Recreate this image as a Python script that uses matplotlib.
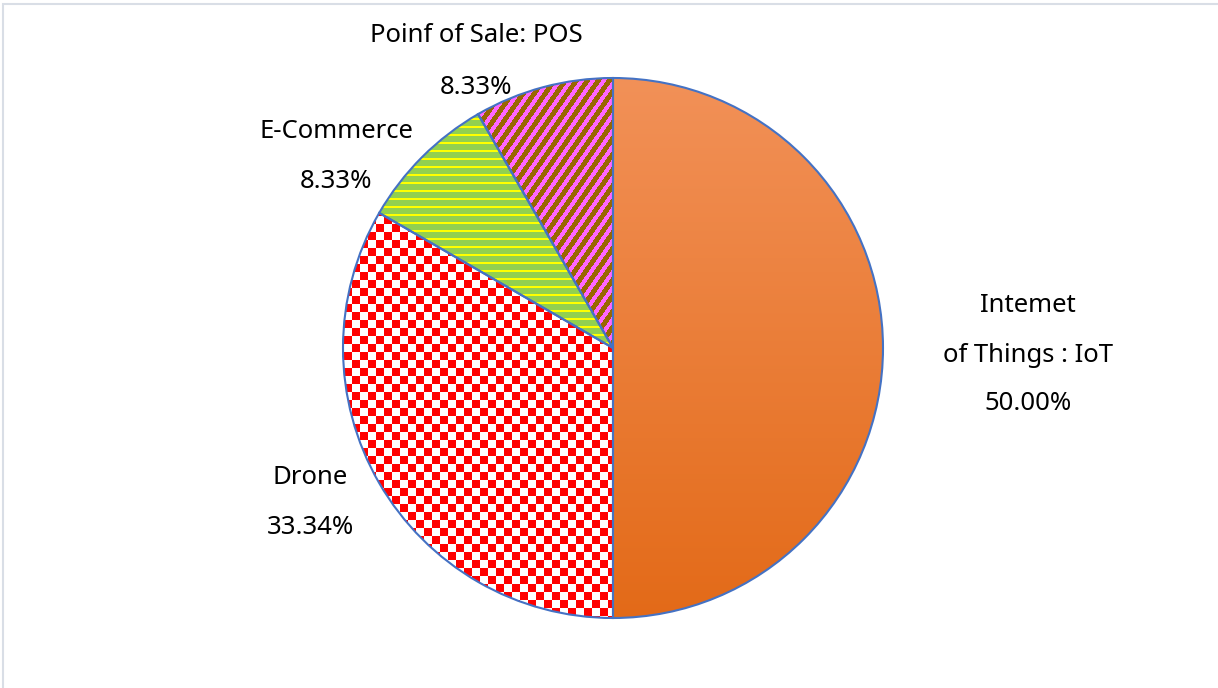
import numpy as np
import matplotlib.pyplot as plt
from matplotlib.patches import Rectangle

# Data
categories = ['Intemet\nof Things : IoT', 'Drone', 'E-Commerce', 'Poinf of Sale: POS']
shares = [50.00, 33.34, 8.33, 8.33]
pct_labels = ['50.00%', '33.34%', '8.33%', '8.33%']

plt.rcParams['font.family'] = ['Noto Sans', 'DejaVu Sans']

W, H = 1218, 688
fig = plt.figure(figsize=(W / 100, H / 100), dpi=100)
ax = fig.add_axes([0, 0, 1, 1])

# chart frame
ax.add_patch(Rectangle((2.5, -10), W + 10, H - 4 + 10, fill=False,
                       edgecolor='#D9DEE6', linewidth=1.5))

cx, cy, r = 613, 340, 270
wedges, _ = ax.pie(shares, startangle=90, counterclock=False, center=(cx, cy),
                   radius=r, frame=True,
                   wedgeprops=dict(edgecolor='#4472C4', linewidth=1.5, facecolor='none'))
ax.set_xlim(0, W)
ax.set_ylim(0, H)
ax.set_aspect('equal')
ax.axis('off')

# pixel grid for textures
xs = np.arange(cx - r, cx + r)
ys = np.arange(cy - r, cy + r)
X, Y = np.meshgrid(xs, ys)
ext = [cx - r, cx + r, cy - r, cy + r]

def rgb(h):
    h = h.lstrip('#')
    return np.array([int(h[i:i + 2], 16) / 255 for i in (0, 2, 4)])

# IoT: vertical orange gradient
top, bot = rgb('#F29158'), rgb('#E36A18')
t = ((Y - ys.min()) / (ys.max() - ys.min()))[..., None]
grad = bot * (1 - t) + top * t
# Drone: red/white checkerboard
cell = 8
chk = ((np.floor(X / cell) + np.floor(Y / cell)) % 2 == 0)[..., None]
checker = np.where(chk, rgb('#FF0000'), rgb('#FFFFFF'))
# E-Commerce: green with yellow horizontal lines
hl = ((Y % 8) < 2)[..., None]
hlines = np.where(hl, rgb('#FFFF00'), rgb('#92D050'))
# POS: brown with magenta diagonal stripes
dg = (((X - 0.7 * Y) % 11) < 5)[..., None]
diag = np.where(dg, rgb('#FF66FF'), rgb('#996600'))

textures = [grad, checker, hlines, diag]
for w, tex in zip(wedges, textures):
    im = ax.imshow(tex, extent=ext, origin='lower', interpolation='nearest', zorder=1)
    im.set_clip_path(w)
    w.set_zorder(2)

# labels
fs = 18.5
label_pos = [(1028, H - 306, 49), (310, H - 478, 50), (336, H - 132, 50), (476, H - 36, 51)]
for cat, pct, (lx, ly, gap) in zip(categories, pct_labels, label_pos):
    lines = cat.split('\n') + [pct]
    for i, s in enumerate(lines):
        ax.text(lx, ly - i * gap, s, ha='center', va='center', fontsize=fs, color='black')

fig.savefig('out.png', dpi=100)
